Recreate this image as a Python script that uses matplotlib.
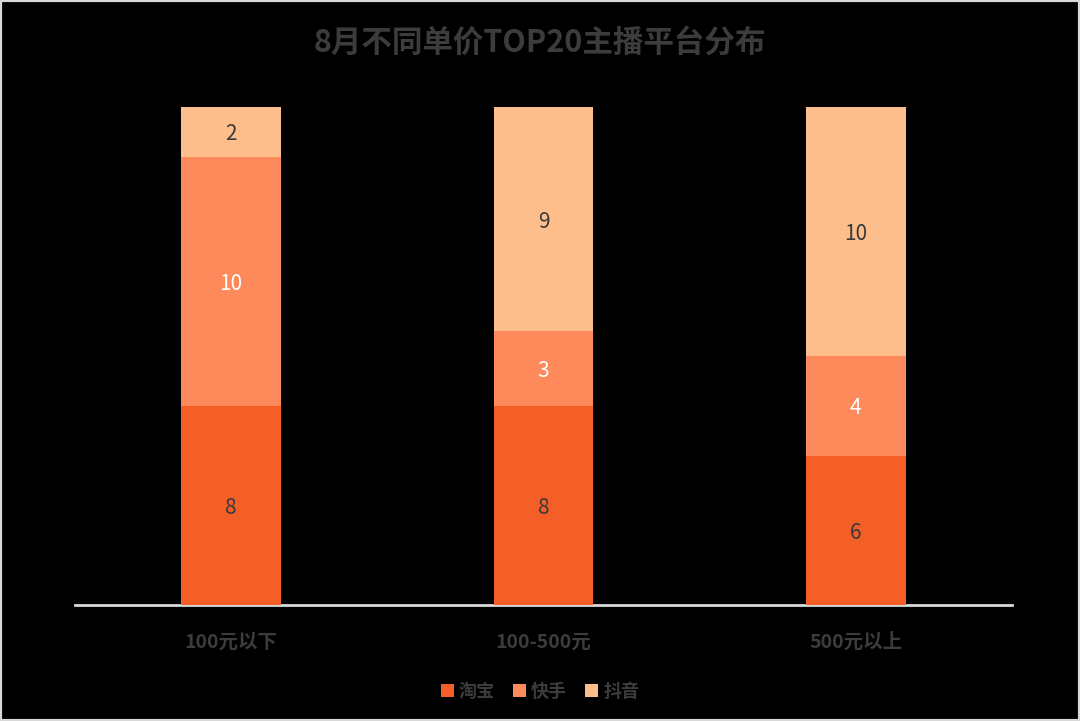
import matplotlib
matplotlib.use("Agg")
import matplotlib.pyplot as plt
from matplotlib.patches import Rectangle
import numpy as np

plt.rcParams['font.family'] = ['Noto Sans CJK SC', 'DejaVu Sans']

categories = ['100元以下', '100-500元', '500元以上']
series_names = ['淘宝', '快手', '抖音']
taobao = [8, 8, 6]
kuaishou = [10, 3, 4]
douyin = [2, 9, 10]
title = '8月不同单价TOP20主播平台分布'

colors = ['#F45E27', '#FE895A', '#FDBE8B']
label_colors = ['#3A3A3A', '#FFFFFF', '#3A3A3A']
text_gray = '#3C3C3C'

fig = plt.figure(figsize=(10.8, 7.21), dpi=100)
fig.patch.set_facecolor('#000000')
ax = fig.add_axes([75/1080, 1-605/721, (1012-75)/1080, (605-107)/721])
ax.set_facecolor('#000000')

x = np.arange(len(categories))
bottom = np.zeros(len(categories))
handles = []
for vals, name, c, lc in zip([taobao, kuaishou, douyin], series_names, colors, label_colors):
    bars = ax.bar(x, vals, width=0.32, bottom=bottom, color=c, label=name, zorder=2)
    handles.append(bars)
    for xi, v, b in zip(x, vals, bottom):
        ax.text(xi, b + v/2 - 0.1, str(v), ha='center', va='center', fontsize=15,
                color=lc, zorder=3)
    bottom += np.array(vals)

ax.set_xlim(-0.5, len(categories)-0.5)
ax.set_ylim(0, 20)
ax.set_yticks([])
ax.set_xticks(x)
ax.set_xticklabels(categories, fontsize=14, fontweight='bold', color=text_gray)
ax.tick_params(axis='x', length=0, pad=20)
for s in ['top', 'right', 'left']:
    ax.spines[s].set_visible(False)
ax.spines['bottom'].set_color('#D9D9D9')
ax.spines['bottom'].set_linewidth(2)
ax.spines['bottom'].set_zorder(1)

fig.text(0.5, 1-43/721, title, ha='center', va='center', fontsize=22,
         fontweight='bold', color=text_gray)

leg = fig.legend(handles=handles, labels=series_names, loc='center',
                 bbox_to_anchor=(0.5, 1-691/721), ncol=3, frameon=False,
                 fontsize=13, handlelength=0.7, handleheight=0.7,
                 handletextpad=0.3, columnspacing=1.0)
for t in leg.get_texts():
    t.set_color(text_gray)
    t.set_fontweight('bold')

fig.patches.append(Rectangle((0, 0), 1, 1, transform=fig.transFigure,
                             fill=False, edgecolor='#D9D9D9', linewidth=3,
                             zorder=10))

fig.savefig('out.png', dpi=100, facecolor=fig.get_facecolor())
